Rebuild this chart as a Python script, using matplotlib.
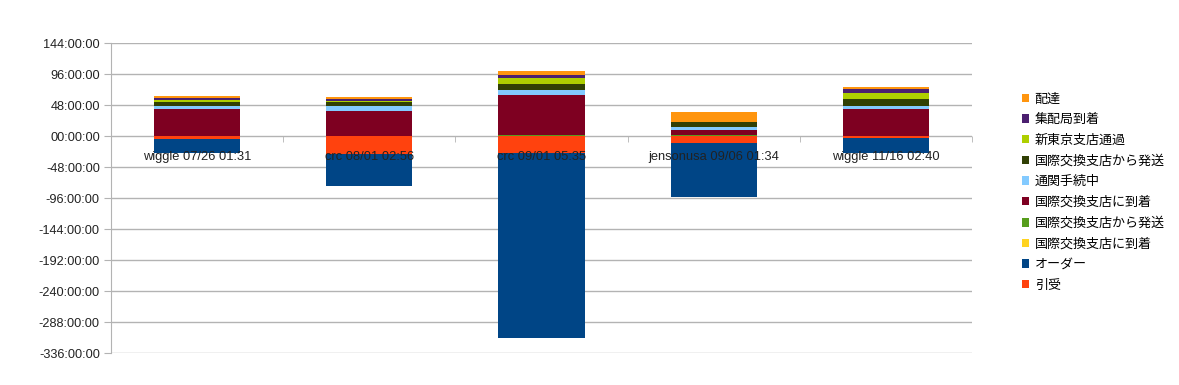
import matplotlib
matplotlib.use('Agg')
import matplotlib.pyplot as plt
from matplotlib.patches import Patch
from matplotlib.ticker import FixedLocator, FuncFormatter
import numpy as np

plt.rcParams['font.family'] = ['Liberation Sans', 'Noto Sans CJK JP', 'DejaVu Sans']

# Shipments (x categories)
categories = ['wiggle 07/26 01:31', 'crc 08/01 02:56', 'crc 09/01 05:35',
              'jensonusa 09/06 01:34', 'wiggle 11/16 02:40']

# Hours spent in each stage, bottom of stack first
series_names = ['引受', 'オーダー', '国際交換支店に到着', '国際交換支店から発送',
                '国際交換支店に到着', '通関手続中', '国際交換支店から発送',
                '新東京支店通過', '集配局到着', '配達']
hikiuke = [-5, -28, -26, -11, -3]
order = [-22, -49, -286, -83, -23]
arrive_intl_1 = [0.2, 0.2, 0.3, 0.2, 0.2]
depart_intl_1 = [0.5, 0.3, 1.0, 1.5, 0.5]
arrive_intl_2 = [41.5, 38, 62.4, 7.3, 40.7]
customs = [4.6, 7.4, 7.4, 4.6, 5.3]
depart_intl_2 = [6.5, 7.3, 9.6, 7.4, 10.8]
shin_tokyo = [2.0, 1.5, 9.0, 0, 8.7]
post_office = [4.2, 3.0, 5.0, 0, 7.3]
delivered = [2.5, 2.2, 6.2, 15.5, 2.3]

series_values = [hikiuke, order, arrive_intl_1, depart_intl_1, arrive_intl_2,
                 customs, depart_intl_2, shin_tokyo, post_office, delivered]
colors = ['#ff420e', '#004586', '#ffd320', '#579d1c', '#7e0021',
          '#83caff', '#314004', '#aecf00', '#4b1f6f', '#ff950e']

yticks = list(range(-336, 145, 48))
grid_color = '#b3b3b3'

fig = plt.figure(figsize=(11.79, 3.85), dpi=100)
ax = fig.add_axes([0.0941, 0.0831, 0.7303, 0.8052])

x = np.arange(len(categories))
pos_bottom = np.zeros(len(categories))
neg_bottom = np.zeros(len(categories))
for name, vals, col in zip(series_names, series_values, colors):
    v = np.array(vals, dtype=float)
    bottom = np.where(v >= 0, pos_bottom, neg_bottom)
    ax.bar(x, v, 0.5, bottom=bottom, color=col, linewidth=0, zorder=1)
    pos_bottom += np.where(v >= 0, v, 0)
    neg_bottom += np.where(v < 0, v, 0)

# horizontal grid under the bars
for t in yticks:
    ax.axhline(t, color=grid_color, lw=1, zorder=0)

ax.set_xlim(-0.5, len(categories) - 0.5)
ax.set_ylim(yticks[0], yticks[-1])
ax.set_yticks(yticks)
ax.yaxis.set_major_formatter(FuncFormatter(
    lambda v, p: ('-' if v < 0 else '') + '%02d:00:00' % abs(int(v))))
ax.tick_params(axis='y', length=5, color=grid_color, labelsize=9.2,
               labelcolor='#222222', pad=3)

# category axis sits on the zero line
ax.spines['bottom'].set_position(('data', 0))
ax.spines['bottom'].set_visible(False)
ax.spines['top'].set_visible(False)
ax.spines['right'].set_visible(False)
ax.spines['left'].set_color(grid_color)
ax.set_xticks(x)
ax.set_xticklabels(categories)
ax.xaxis.set_minor_locator(FixedLocator(np.arange(-0.5, len(categories), 1.0)))
ax.tick_params(axis='x', which='major', length=0, labelsize=9.3,
               labelcolor='#222222', pad=11)
ax.tick_params(axis='x', which='minor', length=4, color=grid_color)

handles = [Patch(facecolor=c, edgecolor='none') for c in colors]
fig.legend(handles[::-1], series_names[::-1], loc='center left',
           bbox_to_anchor=(0.862, 0.500), frameon=False, fontsize=9.4,
           handlelength=0.6, handleheight=0.6, handletextpad=0.4,
           labelspacing=0.64, borderaxespad=0)

fig.savefig('out.png', dpi=100)
